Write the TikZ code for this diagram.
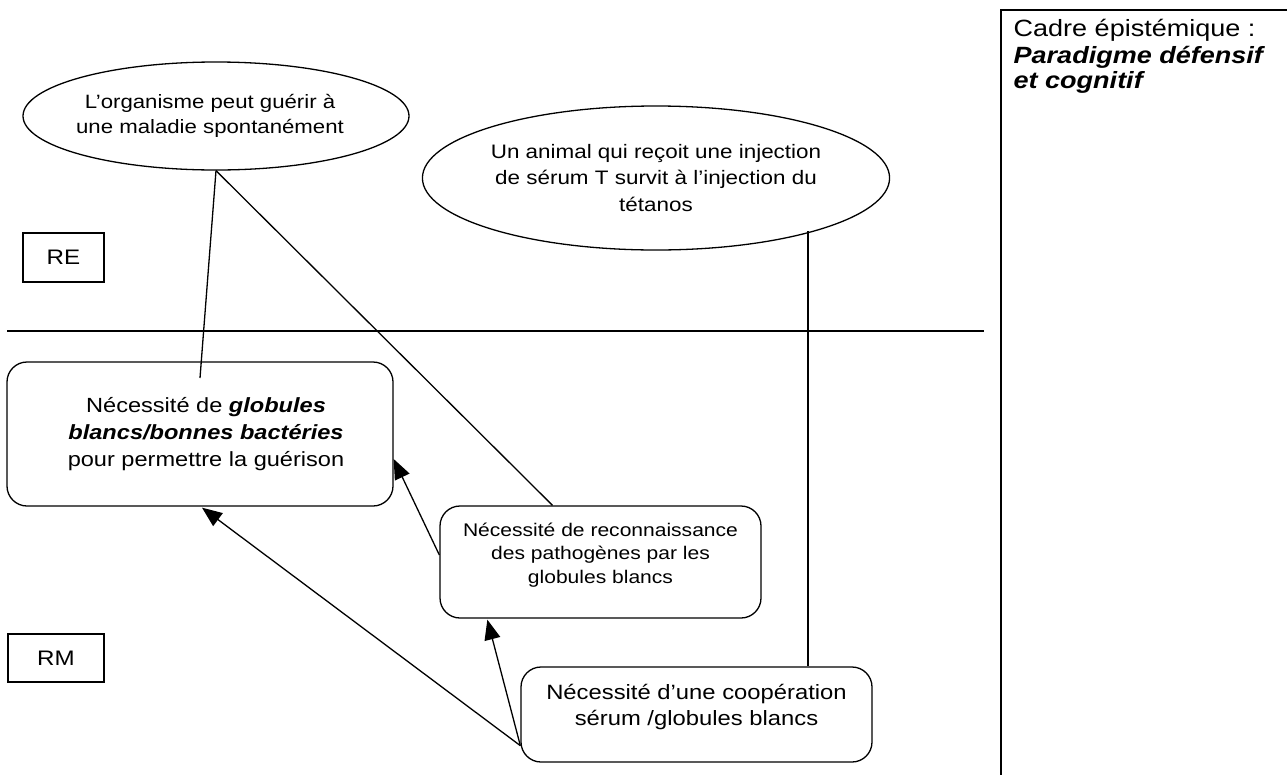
\documentclass[tikz,border=0pt]{standalone}
\usepackage{fontspec}
\setmainfont{Liberation Sans}
\newfontfamily\fmain[FakeStretch=1.15]{Liberation Sans}
\newfontfamily\fframe[FakeStretch=1.15]{Liberation Sans}
\usetikzlibrary{shapes.geometric,arrows.meta,calc}
\begin{document}
\begin{tikzpicture}[x=1pt,y=-1pt,
  line width=1.3pt,
  ell/.style={draw,ellipse,inner sep=0pt,align=center},
  rbox/.style={draw,rounded corners=20pt,inner sep=0pt,align=center},
  sbox/.style={draw,inner sep=0pt,font=\fmain\fontsize{21}{25}\selectfont},
  arr/.style={-{Triangle[length=20pt,width=16pt]}},
  conn/.style={line width=1.3pt}
]
\useasboundingbox (0,0) rectangle (1287,774);

% frame on the right
\coordinate (fbl) at (1001,800);
\coordinate (ftl) at (1001,10);
\coordinate (ftr) at (1300,10);
\draw[line width=1.6pt] (fbl) -- (ftl) -- (ftr);
\node[anchor=north west,align=left,inner sep=0pt,font=\fframe\fontsize{23.5}{22}\selectfont] (cadre) at (1013,19)
  {Cadre épistémique :\\[3pt]\textbf{\textit{Paradigme défensif}}\\[3pt]\textbf{\textit{et cognitif}}};

% separator line
\coordinate (hl) at (7,331);
\coordinate (hr) at (984,331);
\draw[conn] (hl) -- (hr);

% level labels
\node[sbox,minimum width=81pt,minimum height=49pt] (RE) at (63.5,257.5) {RE};
\node[sbox,minimum width=96pt,minimum height=48pt] (RM) at (56,658) {RM};

% ellipses
\node[ell,minimum width=386pt,minimum height=108pt,font=\fmain\fontsize{19.3}{25}\selectfont] (e1) at (216,116)
  {\hspace*{-12pt}L’organisme peut guérir à\\\hspace*{-12pt}une maladie spontanément};
\node[ell,minimum width=404pt,minimum height=144pt,font=\fmain\fontsize{19.5}{26.5}\selectfont] (e2) at (656,178)
  {Un animal qui reçoit une injection\\de sérum T survit à l’injection du\\tétanos};

% rounded boxes
\node[rbox,minimum width=386pt,minimum height=144pt,font=\fmain\fontsize{20.5}{27}\selectfont] (A) at (200,434)
  {\hspace*{12pt}Nécessité de \textbf{\textit{globules}}\\\hspace*{12pt}\textbf{\textit{blancs/bonnes bactéries}}\\\hspace*{12pt}pour permettre la guérison};
\node[rbox,minimum width=321pt,minimum height=112pt,text depth=18pt,font=\fmain\fontsize{18.3}{23.5}\selectfont] (B) at (600.5,562)
  {Nécessité de reconnaissance\\des pathogènes par les\\globules blancs};
\node[rbox,minimum width=351pt,minimum height=95pt,text depth=20pt,font=\fmain\fontsize{20.7}{26}\selectfont] (C) at (696.5,714.5)
  {Nécessité d’une coopération\\sérum /globules blancs};

% connectors
\coordinate (pA) at (200,378);
\draw[conn] (e1.south) -- (pA);
\draw[conn] (e1.south) -- ($(B.north)+(-48,0)$);
\coordinate (e2p) at (808,231);
\draw[conn] (e2p) -- (e2p |- C.north);

\coordinate (cS) at ($(C.south west)+(0,-17)$);
\draw[conn,arr] (cS) -- ($(A.south)+(2,1)$);
\draw[conn,arr] (cS) -- ($(B.south west)+(48,1)$);
\draw[conn,arr] ($(B.west)+(0,-7)$) -- ($(A.east)+(0,25)$);
\end{tikzpicture}
\end{document}
